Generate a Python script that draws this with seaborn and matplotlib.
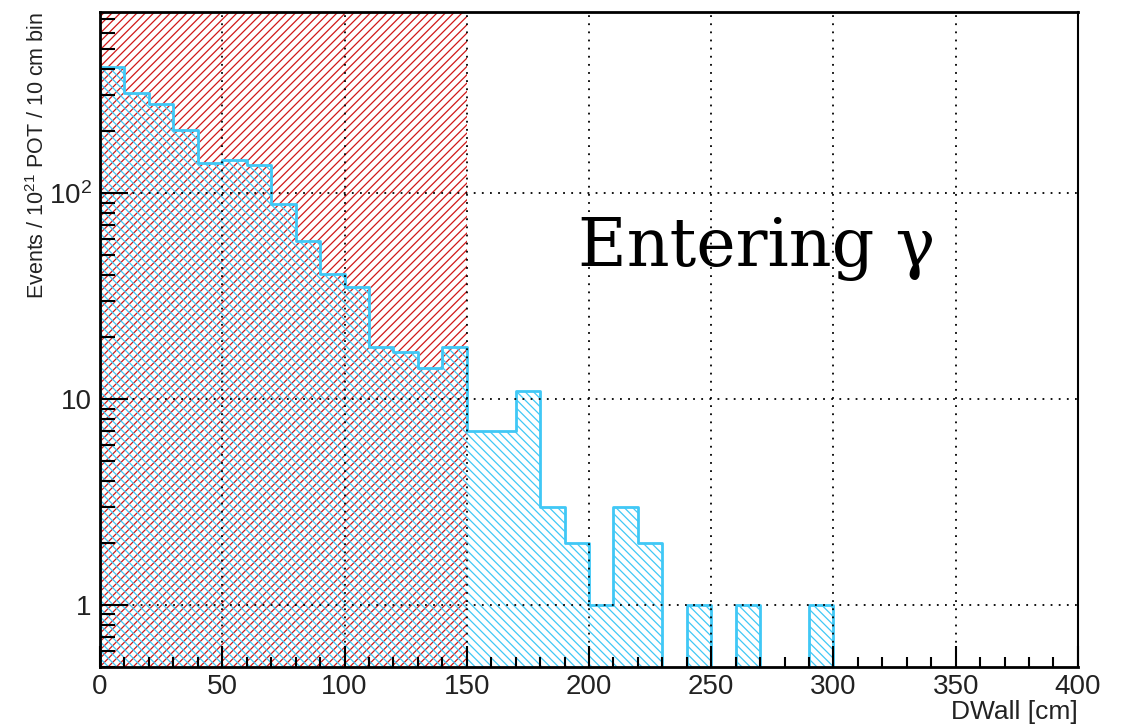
import numpy as np
import seaborn as sns
import matplotlib.pyplot as plt
from matplotlib import ticker

# DWall histogram, 10 cm bins
bin_edges = list(range(0, 410, 10))
bin_centers = [e + 5 for e in bin_edges[:-1]]
gamma_counts = [409, 306, 273, 202, 140, 146, 137, 89, 58.5, 40.4,
                35, 18, 16.9, 14.1, 18, 7, 7, 11, 3, 2,
                1, 3, 2, 0, 1, 0, 1, 0, 0, 1,
                0, 0, 0, 0, 0, 0, 0, 0, 0, 0]

# cut region (DWall < 150 cm), drawn over the full height
cut_edges = [0, 150]
cut_centers = [75]
cut_height = [1e4]

ytick_vals = [1, 10, 100]
ytick_labels = ['1', '10', r'$10^{2}$']

RED = '#d01818'
CYAN = '#40c8f6'

sns.set_style("ticks")
plt.rcParams['font.family'] = ['Liberation Sans', 'DejaVu Sans']
plt.rcParams['mathtext.fontset'] = 'custom'
plt.rcParams['mathtext.rm'] = 'Liberation Sans'
plt.rcParams['mathtext.it'] = 'Liberation Sans'
plt.rcParams['mathtext.default'] = 'rm'
plt.rcParams['hatch.linewidth'] = 0.9

fig = plt.figure(figsize=(11.24, 7.24), dpi=100)
ax = fig.add_axes([0.089, 0.0787, 0.870, 0.9047])
ax.set_yscale('log')

sns.histplot(x=cut_centers, weights=cut_height, bins=cut_edges, element='step',
             fill=True, color=RED, facecolor='none', edgecolor=RED, hatch='////',
             linewidth=0, ax=ax)
sns.histplot(x=bin_centers, weights=gamma_counts, bins=bin_edges, element='step',
             fill=True, color=CYAN, facecolor='none', edgecolor=CYAN, hatch='\\\\\\\\',
             linewidth=2, ax=ax)

ax.set_xlim(0, 400)
ax.set_ylim(0.5, 760)

ax.xaxis.set_major_locator(ticker.MultipleLocator(50))
ax.xaxis.set_minor_locator(ticker.MultipleLocator(10))
ax.yaxis.set_major_locator(ticker.FixedLocator(ytick_vals))
ax.yaxis.set_major_formatter(ticker.FixedFormatter(ytick_labels))
ax.yaxis.set_minor_locator(ticker.LogLocator(base=10, subs=np.arange(2, 10)))
ax.yaxis.set_minor_formatter(ticker.NullFormatter())

ax.tick_params(axis='both', which='both', direction='in', top=False, right=False,
               colors='black', width=1.5)
ax.tick_params(axis='x', which='major', length=15, labelsize=20, pad=5)
ax.tick_params(axis='x', which='minor', length=7.5)
ax.tick_params(axis='y', which='major', length=20, labelsize=20, pad=6)
ax.tick_params(axis='y', which='minor', length=11)
for lab in ax.get_xticklabels() + ax.get_yticklabels():
    lab.set_color('#222222')

for side in ['left', 'bottom', 'top']:
    ax.spines[side].set_linewidth(2)
ax.spines['right'].set_linewidth(1.5)
for sp in ax.spines.values():
    sp.set_color('black')

ax.set_axisbelow(False)
ax.grid(True, which='major', color='black', linestyle=(0, (1, 3.5)), linewidth=1.3)

ax.set_ylabel(r'Events / 10$^{21}$ POT / 10 cm bin', loc='top', fontsize=15.5, color='#222222')
ax.yaxis.set_label_coords(-0.052, 1.0)
ax.set_xlabel('DWall [cm]', loc='right', fontsize=19, color='#222222')
ax.xaxis.set_label_coords(1.0, -0.050)

ax.text(0.489, 0.612, 'Entering γ', transform=ax.transAxes, ha='left', va='baseline',
        fontsize=48, family=['DejaVu Serif'], color='black')

fig.savefig('out.png', dpi=100)
